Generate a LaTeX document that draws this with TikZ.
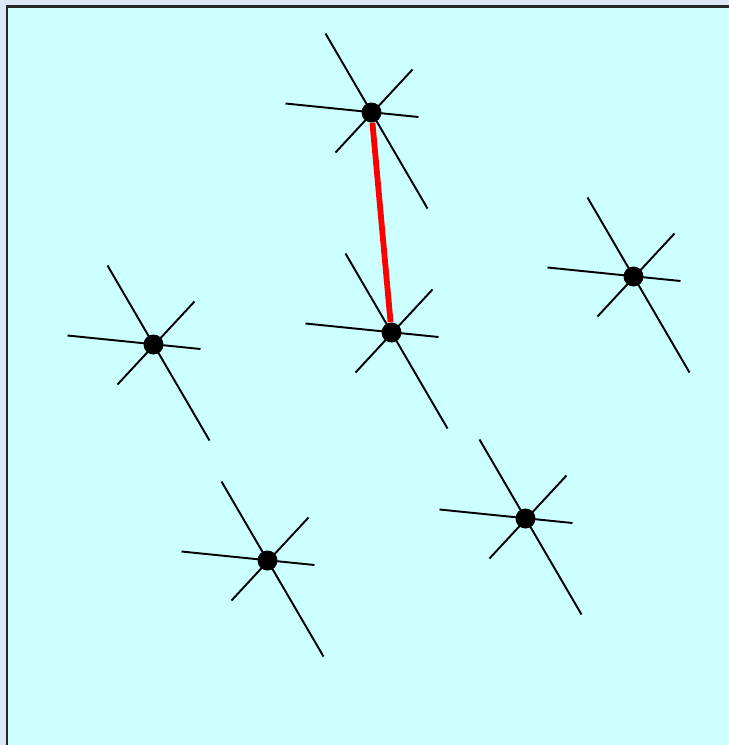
\documentclass[tikz,border=0pt]{standalone}
\usepackage{xcolor}
\usepackage{tikz}
\definecolor{slideBg}{RGB}{221,231,245}
\definecolor{paneCyan}{RGB}{204,255,255}
\definecolor{linkRed}{RGB}{255,0,0}

\begin{document}
\begin{tikzpicture}[x=0.02cm, y=-0.02cm,
    dot/.style={circle,fill=black,inner sep=0pt,minimum size=0.4cm},
    spoke/.style={draw=black,line width=1.1pt},
    link/.style={draw=linkRed,line width=3.3pt},
    spokes/.pic={
      \draw[spoke] (-46,-79) -- (56,96);
      \draw[spoke] (-86,-9) -- (47,4.5);
      \draw[spoke] (41,-43) -- (-36,40);
    }]
    \useasboundingbox (0,0) rectangle (729,745);
    \fill[slideBg] (0,0) rectangle (729,745);
    \clip (0,0) rectangle (729,745);
    \filldraw[fill=paneCyan,draw=black!85,line width=1.2pt] (7,6.5) rectangle (760,780);

    % points
    \coordinate (pTop)   at (371.5,112.5);
    \coordinate (pMid)   at (391.5,332.5);
    \coordinate (pLeft)  at (153.5,344.5);
    \coordinate (pRight) at (633.5,276.5);
    \coordinate (pLow)   at (267.5,560.5);
    \coordinate (pSouth) at (525.5,518.5);

    \pic at (pTop)   {spokes};
    \pic at (pMid)   {spokes};
    \pic at (pLeft)  {spokes};
    \pic at (pRight) {spokes};
    \pic at (pLow)   {spokes};
    \pic at (pSouth) {spokes};

    \node[dot] (top)   at (pTop)   {};
    \node[dot] (mid)   at (pMid)   {};
    \node[dot] (left)  at (pLeft)  {};
    \node[dot] (right) at (pRight) {};
    \node[dot] (low)   at (pLow)   {};
    \node[dot] (south) at (pSouth) {};

    \draw[link] (top) -- (mid);
  \end{tikzpicture}
\end{document}
